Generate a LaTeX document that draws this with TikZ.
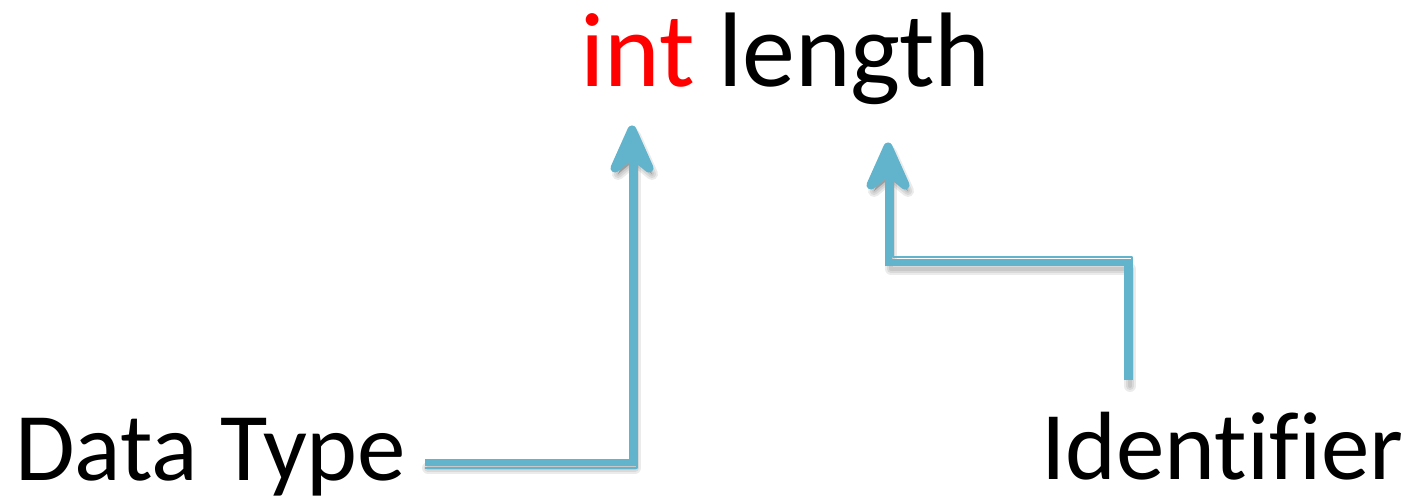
\documentclass[tikz,border=0pt]{standalone}
\usepackage{fontspec}
\setmainfont{Carlito}[Ligatures=NoCommon]
\usetikzlibrary{arrows.meta}
\definecolor{arrowblue}{HTML}{62B4CC}
\definecolor{codered}{HTML}{FF0000}
\tikzset{
  x=1pt, y=-1pt,
  bigtext/.style={inner sep=0pt, anchor=base west, font=\fontsize{97}{110}\selectfont},
  toptext/.style={inner sep=0pt, anchor=base west, font=\fontsize{106}{120}\selectfont},
  shaft/.style={draw=arrowblue, line width=7pt, line join=miter},
  bevel/.style={draw=arrowblue, line width=2pt, line join=round},
  shade/.style={draw=black, line width=#1, opacity=0.08, line join=round, line cap=round},
  head/.style={draw=arrowblue, fill=arrowblue, line width=9pt, line cap=round, line join=round},
  headshade/.style={draw=black, fill=black, line width=#1, opacity=0.08, line join=round},
}
\begin{document}
\begin{tikzpicture}
\useasboundingbox (0,0) rectangle (1405,502);

% labels
\node[toptext] (decl) at (580,87) {\textcolor{codered}{int}\hspace{0.22em}length};
\node[bigtext] (dt) at (15,480) {Data Type};
\node[bigtext] (id) at (1041,479) {Identifier};

% route points of the two connectors
\coordinate (a1s) at (425,462);
\coordinate (a1c) at (632,462);
\coordinate (a1t) at (632,130);
\coordinate (a2s) at (1127,380);
\coordinate (a2c) at (1127,263);
\coordinate (a2k) at (888,263);
\coordinate (a2t) at (888,147);

% soft shadows under both connectors
\foreach \w in {12pt,8pt,4pt}{
  \draw[shade=\w] ([shift={(3,6)}]a1s) -- ([shift={(3,6)}]a1c) -- ([shift={(3,32)}]a1t);
  \draw[shade=\w] ([shift={(3,6)}]a2s) -- ([shift={(3,6)}]a2c) -- ([shift={(3,6)}]a2k) -- ([shift={(3,32)}]a2t);
  \filldraw[headshade=\w] ([shift={(-14,44)}]a1t) -- ([shift={(3,6)}]a1t) -- ([shift={(20,44)}]a1t) -- ([shift={(3,30)}]a1t) -- cycle;
  \filldraw[headshade=\w] ([shift={(-14,44)}]a2t) -- ([shift={(3,6)}]a2t) -- ([shift={(20,44)}]a2t) -- ([shift={(3,30)}]a2t) -- cycle;
}

% Data Type -> int
\draw[shaft] (a1s) -- (a1c) -- ([shift={(0,30)}]a1t);
\draw[bevel] ([shift={(0,6)}]a1s) -- ([shift={(5,6)}]a1c) -- ([shift={(5,30)}]a1t);
\filldraw[head] ([shift={(-17,38)}]a1t) -- (a1t) -- ([shift={(17,38)}]a1t)
  -- ([shift={(0,24)}]a1t) -- cycle;

% Identifier -> length
\draw[shaft] (a2s) -- (a2c) -- (a2k) -- ([shift={(0,30)}]a2t);
\draw[bevel] ([shift={(5,0)}]a2s) -- ([shift={(5,-6)}]a2c) -- ([shift={(5,-6)}]a2k) -- ([shift={(5,30)}]a2t);
\filldraw[head] ([shift={(-17,38)}]a2t) -- (a2t) -- ([shift={(17,38)}]a2t)
  -- ([shift={(0,24)}]a2t) -- cycle;
\end{tikzpicture}
\end{document}
